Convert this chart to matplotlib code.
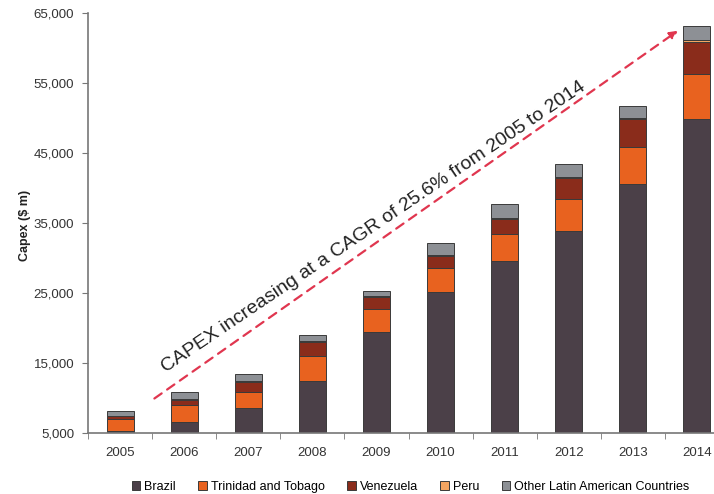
import matplotlib
matplotlib.use('Agg')
import matplotlib.pyplot as plt
import numpy as np
from matplotlib.ticker import FuncFormatter

plt.rcParams['font.family'] = ['Liberation Sans', 'DejaVu Sans']

# data ($ m)
years = ['2005', '2006', '2007', '2008', '2009', '2010', '2011', '2012', '2013', '2014']
brazil = [5300, 6570, 8530, 12400, 19470, 25190, 29620, 33860, 40570, 49860]
trinidad = [1700, 2430, 2370, 3550, 3240, 3340, 3810, 4520, 5330, 6380]
venezuela = [400, 700, 1340, 2070, 1760, 1760, 2140, 3000, 3910, 4570]
peru = [100, 100, 160, 150, 130, 110, 130, 200, 200, 330]
other = [700, 1100, 1030, 800, 690, 1700, 1970, 1830, 1760, 2000]

series = [
    ('Brazil', brazil, '#4b4048'),
    ('Trinidad and Tobago', trinidad, '#e8621f'),
    ('Venezuela', venezuela, '#8a2c1b'),
    ('Peru', peru, '#f4a561'),
    ('Other Latin American Countries', other, '#8d9095'),
]

fig = plt.figure(figsize=(7.14, 4.94), dpi=100)
ax = fig.add_axes([88 / 714, 1 - 433 / 494, 641 / 714, 420 / 494])

x = np.arange(len(years))
bottom = np.zeros(len(years))
handles = []
for name, vals, col in series:
    b = ax.bar(x, vals, 0.42, bottom=bottom, color=col, edgecolor='#3a3a3a',
               linewidth=0.7, label=name)
    handles.append(b)
    bottom += np.array(vals)

ax.set_ylim(5000, 65000)
ax.set_xlim(-0.5, 9.5)
ax.set_yticks(np.arange(5000, 65001, 10000))
ax.yaxis.set_major_formatter(FuncFormatter(lambda v, p: '{:,.0f}'.format(v)))
ax.set_xticks(x)
ax.set_xticklabels(years)
ax.set_xticks(np.arange(-0.5, 10, 1), minor=True)
ax.tick_params(axis='x', which='major', length=0, pad=10, labelsize=9.5, colors='#333333')
ax.tick_params(axis='x', which='minor', length=4, direction='out', color='#777777')
ax.tick_params(axis='y', length=4, direction='out', labelsize=9.5, colors='#333333', pad=6)
ax.tick_params(axis='y', color='#777777')

for s in ['top', 'right']:
    ax.spines[s].set_visible(False)
ax.spines['left'].set_color('#777777')
ax.spines['bottom'].set_color('#777777')
ax.spines['left'].set_linewidth(1.2)
ax.spines['bottom'].set_linewidth(1.2)

fig.text(25 / 714, 1 - 225 / 494, 'Capex ($ m)', rotation=90, ha='center', va='center',
         fontsize=9, fontweight='bold', color='#222222')

# growth arrow and note
ax.annotate('', xy=(8.74, 62700), xytext=(0.5, 9700),
            arrowprops=dict(arrowstyle='-|>', color='#e0364f', lw=1.6,
                            linestyle=(0, (4, 3)), mutation_scale=12))
ax.text(3.95, 34400, 'CAPEX increasing at a CAGR of 25.6% from 2005 to 2014',
        rotation=34, rotation_mode='anchor', ha='center', va='center',
        fontsize=14, color='#222222')

fig.legend(handles=handles, labels=[s[0] for s in series], loc='center',
           bbox_to_anchor=(0.575, 1 - 487 / 494), ncol=5, frameon=False,
           fontsize=9, handlelength=0.7, handleheight=0.7, handletextpad=0.3,
           columnspacing=1.8)

fig.savefig('out.png', dpi=100)
